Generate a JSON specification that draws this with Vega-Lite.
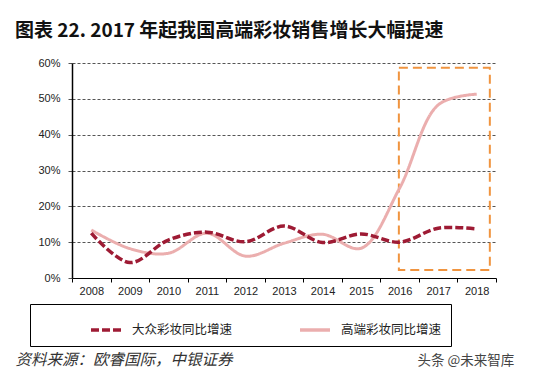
{
  "$schema": "https://vega.github.io/schema/vega-lite/v6.json",
  "width": 424,
  "height": 215,
  "autosize": "none",
  "padding": {"left": 72, "top": 63, "right": 37, "bottom": 103},
  "background": "white",
  "title": {
    "text": "图表 22. 2017 年起我国高端彩妆销售增长大幅提速",
    "anchor": "start",
    "frame": "group",
    "dx": -57,
    "offset": 16,
    "font": "Noto Sans CJK SC",
    "fontSize": 19,
    "fontWeight": "bold",
    "color": "#111"
  },
  "config": {"view": {"stroke": null}},
  "datasets": {
    "growth": [
      {"year": 2008, "series": "高端彩妆同比增速", "value": 0.134},
      {"year": 2009, "series": "高端彩妆同比增速", "value": 0.082},
      {"year": 2010, "series": "高端彩妆同比增速", "value": 0.069},
      {"year": 2011, "series": "高端彩妆同比增速", "value": 0.125},
      {"year": 2012, "series": "高端彩妆同比增速", "value": 0.061},
      {"year": 2013, "series": "高端彩妆同比增速", "value": 0.097},
      {"year": 2014, "series": "高端彩妆同比增速", "value": 0.122},
      {"year": 2015, "series": "高端彩妆同比增速", "value": 0.083},
      {"year": 2016, "series": "高端彩妆同比增速", "value": 0.251},
      {"year": 2017, "series": "高端彩妆同比增速", "value": 0.483},
      {"year": 2018, "series": "高端彩妆同比增速", "value": 0.513},
      {"year": 2008, "series": "大众彩妆同比增速", "value": 0.125},
      {"year": 2009, "series": "大众彩妆同比增速", "value": 0.043},
      {"year": 2010, "series": "大众彩妆同比增速", "value": 0.106},
      {"year": 2011, "series": "大众彩妆同比增速", "value": 0.128},
      {"year": 2012, "series": "大众彩妆同比增速", "value": 0.101},
      {"year": 2013, "series": "大众彩妆同比增速", "value": 0.145},
      {"year": 2014, "series": "大众彩妆同比增速", "value": 0.099},
      {"year": 2015, "series": "大众彩妆同比增速", "value": 0.123},
      {"year": 2016, "series": "大众彩妆同比增速", "value": 0.100},
      {"year": 2017, "series": "大众彩妆同比增速", "value": 0.139},
      {"year": 2018, "series": "大众彩妆同比增速", "value": 0.137}
    ],
    "box": [{"year": 2015.98, "year2": 2018.34, "value": 0.022, "value2": 0.587}]
  },
  "encoding": {
    "x": {
      "field": "year", "type": "quantitative",
      "scale": {"domain": [2007.5, 2018.5], "nice": false, "zero": false},
      "axis": {
        "values": [2007.5, 2008, 2008.5, 2009, 2009.5, 2010, 2010.5, 2011, 2011.5, 2012, 2012.5, 2013, 2013.5, 2014, 2014.5, 2015, 2015.5, 2016, 2016.5, 2017, 2017.5, 2018, 2018.5],
        "labelExpr": "datum.value % 1 == 0 ? format(datum.value, 'd') : ''",
        "tickOpacity": {"condition": {"test": "datum.value % 1 == 0", "value": 0}, "value": 1},
        "grid": false,
        "domainColor": "#000", "domainWidth": 1,
        "tickColor": "#000", "tickSize": 4, "tickWidth": 1,
        "labelFont": "Liberation Sans", "labelFontSize": 11, "labelColor": "#222",
        "labelPadding": 3, "labelOverlap": false, "labelFlush": false,
        "title": "资料来源：欧睿国际，中银证券",
        "titleFont": "Noto Sans CJK SC", "titleFontSize": 15.5, "titleFontStyle": "italic",
        "titleFontWeight": "normal", "titleColor": "#333",
        "titleAnchor": "start", "titleAlign": "left", "titleBaseline": "middle",
        "titleX": -57, "titleY": 81
      }
    },
    "y": {
      "field": "value", "type": "quantitative",
      "scale": {"domain": [0, 0.6], "nice": false},
      "axis": {
        "values": [0, 0.1, 0.2, 0.3, 0.4, 0.5, 0.6],
        "format": ".0%",
        "labelOverlap": false,
        "grid": true, "gridColor": "#555", "gridDash": [3, 2], "gridWidth": 1,
        "domainColor": "#000", "domainWidth": 1.5,
        "tickColor": "#555", "tickSize": 4,
        "labelPadding": 8,
        "labelFont": "Liberation Sans", "labelFontSize": 11, "labelColor": "#222",
        "title": "头条 @未来智库",
        "titleAngle": 0, "titleX": 345, "titleY": 297,
        "titleAlign": "left", "titleBaseline": "middle",
        "titleFont": "Noto Sans CJK SC", "titleFontSize": 13.5,
        "titleFontWeight": "normal", "titleColor": "#444"
      }
    }
  },
  "layer": [
    {
      "data": {"name": "box"},
      "mark": {"type": "rect", "filled": false, "stroke": "#F0943F", "strokeWidth": 2, "strokeDash": [9, 5]},
      "encoding": {
        "x2": {"field": "year2"},
        "y2": {"field": "value2"}
      }
    },
    {
      "data": {"name": "growth"},
      "transform": [{"filter": "datum.series == '高端彩妆同比增速'"}],
      "mark": {"type": "line", "interpolate": "catmull-rom", "strokeWidth": 3},
      "encoding": {
        "color": {
          "field": "series", "type": "nominal",
          "scale": {"domain": ["大众彩妆同比增速", "高端彩妆同比增速"], "range": ["#9E1B34", "#EBAEAE"]},
          "legend": {
            "orient": "none", "legendX": -42, "legendY": 241,
            "direction": "horizontal", "columns": 2,
            "title": " ", "titleOrient": "left", "titleFontSize": 1, "titlePadding": 50,
            "strokeColor": "#000", "padding": 9,
            "symbolType": "stroke", "symbolSize": 900, "symbolStrokeWidth": 3.5,
            "labelFont": "Noto Sans CJK SC", "labelFontSize": 12.5, "labelColor": "#222",
            "labelOffset": 9, "columnPadding": 60, "labelLimit": 400,
            "labelExpr": "datum.label == '高端彩妆同比增速' ? datum.label + '              ' : datum.label"
          }
        },
        "strokeDash": {
          "field": "series", "type": "nominal",
          "scale": {"domain": ["大众彩妆同比增速", "高端彩妆同比增速"], "range": [[8, 3], [1, 0]]},
          "legend": {
            "orient": "none", "legendX": -42, "legendY": 241,
            "direction": "horizontal", "columns": 2,
            "title": " ", "titleOrient": "left", "titleFontSize": 1, "titlePadding": 50,
            "strokeColor": "#000", "padding": 9,
            "symbolType": "stroke", "symbolSize": 900, "symbolStrokeWidth": 3.5,
            "labelFont": "Noto Sans CJK SC", "labelFontSize": 12.5, "labelColor": "#222",
            "labelOffset": 9, "columnPadding": 60, "labelLimit": 400,
            "labelExpr": "datum.label == '高端彩妆同比增速' ? datum.label + '              ' : datum.label"
          }
        }
      }
    },
    {
      "data": {"name": "growth"},
      "transform": [{"filter": "datum.series == '大众彩妆同比增速'"}],
      "mark": {"type": "line", "interpolate": "catmull-rom", "strokeWidth": 3.5},
      "encoding": {
        "color": {"field": "series", "type": "nominal"},
        "strokeDash": {"field": "series", "type": "nominal"}
      }
    }
  ]
}
